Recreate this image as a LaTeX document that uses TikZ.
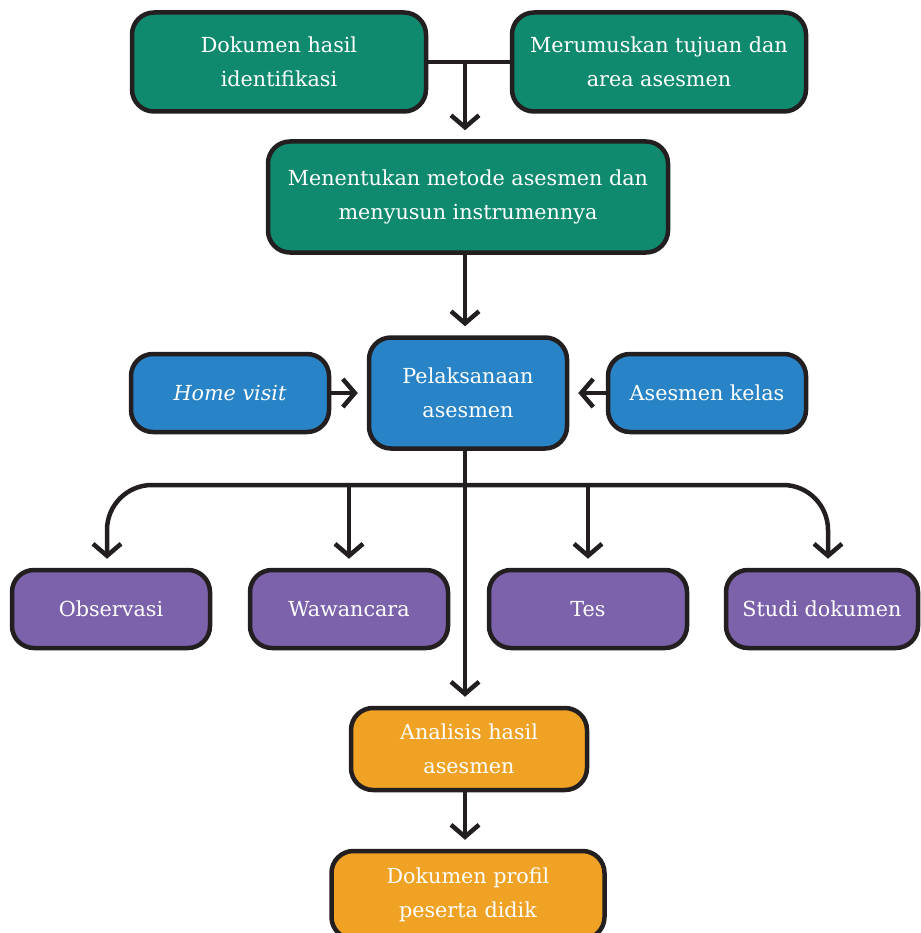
\documentclass[tikz,border=0pt]{standalone}
\usepackage{fontspec}
\setmainfont{DejaVu Serif}
\usetikzlibrary{arrows.meta}
\definecolor{teal}{HTML}{0F8A6F}
\definecolor{blau}{HTML}{2884C6}
\definecolor{ungu}{HTML}{7B62AA}
\definecolor{oranye}{HTML}{F0A224}
\definecolor{garis}{HTML}{231F20}
\tikzset{
  box/.style = {draw=garis, line width=4.5pt, rounded corners=22pt, text=white,
    align=center, inner sep=0pt, font=\fontsize{20.7}{34}\selectfont},
  arr/.style = {draw=garis, line width=4.5pt,
    -{Straight Barb[length=12pt, width=28pt, line width=4.5pt]}, shorten >=9pt},
  line/.style = {draw=garis, line width=4.5pt}
}
\begin{document}
\begin{tikzpicture}[x=1pt, y=-1pt]
  \useasboundingbox (0,0) rectangle (920,933);
  % top row
  \node[box, fill=teal, minimum width=294pt, minimum height=99pt] (doc) at (279,62) {Dokumen hasil\\identifikasi};
  \node[box, fill=teal, minimum width=294pt, minimum height=99pt] (tujuan) at (659,62) {Merumuskan tujuan dan\\area asesmen};
  \node[box, fill=teal, minimum width=400pt, minimum height=111pt] (metode) at (468,197) {Menentukan metode asesmen dan\\menyusun instrumennya};
  % pelaksanaan row
  \node[box, fill=blau, minimum width=198pt, minimum height=78pt] (home) at (230,393) {\itshape Home visit};
  \node[box, fill=blau, minimum width=198pt, minimum height=111pt] (laks) at (468,393) {Pelaksanaan\\asesmen};
  \node[box, fill=blau, minimum width=198pt, minimum height=78pt] (kelas) at (707,393) {Asesmen kelas};
  % methods
  \node[box, fill=ungu, minimum width=198pt, minimum height=78pt] (obs) at (111,609) {Observasi};
  \node[box, fill=ungu, minimum width=198pt, minimum height=78pt] (waw) at (349,609) {Wawancara};
  \node[box, fill=ungu, minimum width=198pt, minimum height=78pt] (tes) at (588,609) {Tes};
  \node[box, fill=ungu, minimum width=192pt, minimum height=78pt] (studi) at (822,609) {Studi dokumen};
  % results
  \node[box, fill=oranye, minimum width=236pt, minimum height=82pt] (anal) at (469,749) {Analisis hasil\\asesmen};
  \node[box, fill=oranye, minimum width=273pt, minimum height=88pt] (profil) at (468,895) {Dokumen profil\\peserta didik};
  \coordinate (j) at (465,62);
  \coordinate (br) at (465,485);
  % connectors
  \draw[line] (doc.east) -- (tujuan.west);
  \draw[arr] (j) -- (j |- metode.north);
  \draw[arr] (metode.south -| j) -- (laks.north -| j);
  \draw[arr] (home) -- (laks);
  \draw[arr] (kelas) -- (laks);
  \draw[arr] (laks.south -| j) -- (anal.north -| j);
  \draw[arr] (anal.south -| j) -- (profil.north -| j);
  % branches
  \draw[arr, rounded corners=45pt] (br) -| ([xshift=-4pt]obs.north);
  \draw[arr, rounded corners=45pt] (br) -| ([xshift=6pt]studi.north);
  \draw[arr] (br -| waw) -- (waw.north);
  \draw[arr] (br -| tes) -- (tes.north);
\end{tikzpicture}
\end{document}
